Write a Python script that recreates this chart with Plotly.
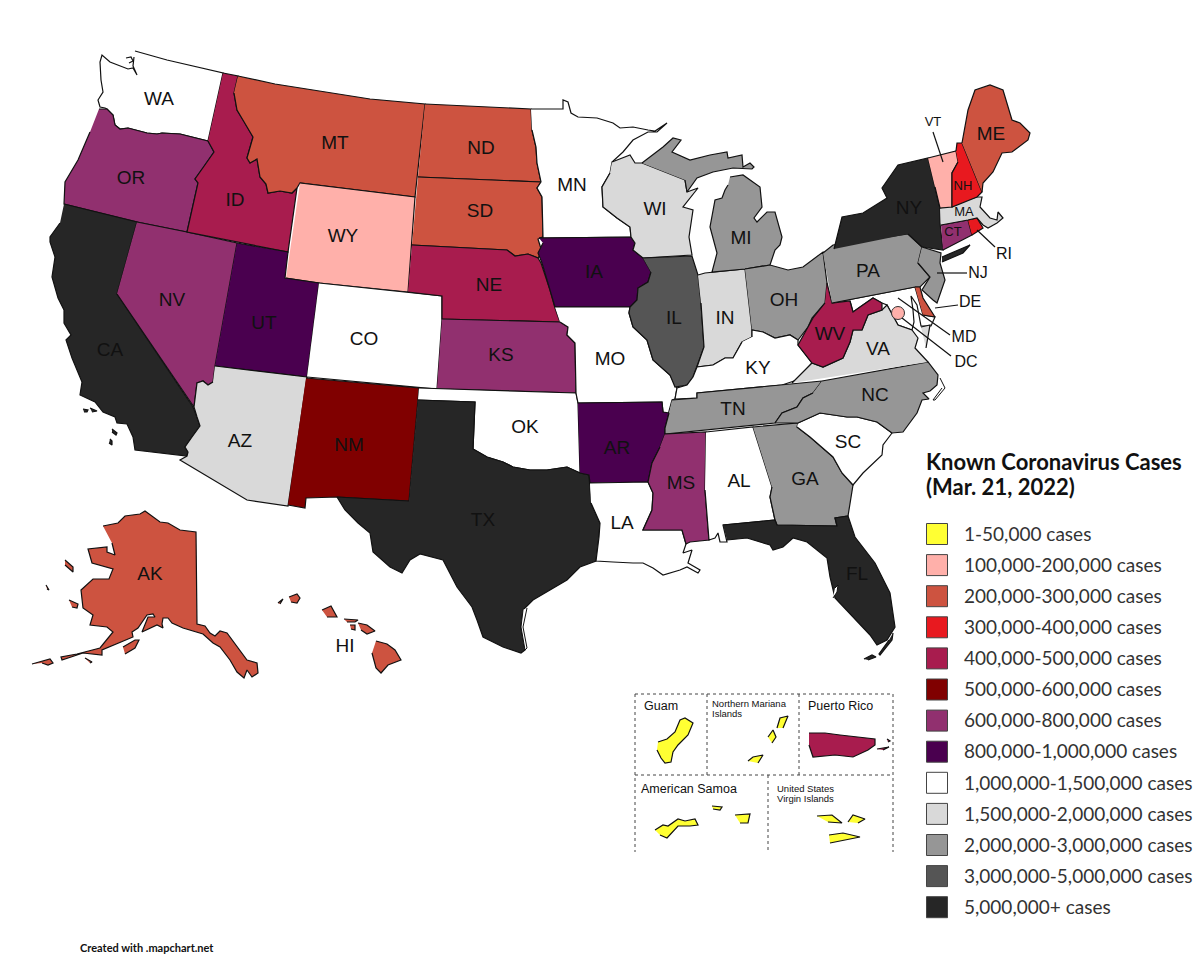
import plotly.graph_objects as go

# cdn topojson can't load here, so state outlines are traced off the reference (image pixels)
WA = [(135,51),(167,60),(223,73),(208,141),(180,134),(162,133),(157,134),(147,133),(128,128),(120,129),(115,125),(113,115),(107,109),(105,108),(100,107),(98,100),(103,92),(101,80),(100,62),(102,55),(110,62),(120,66),(128,69),(133,68),(137,75),(133,66),(134,57),
      None,(126,58),(131,57),(133,61),(129,63)]
OR = [(99,109),(107,109),(113,115),(115,125),(120,129),(128,128),(147,133),(157,134),(162,133),(180,134),(208,141),(214,152),(203,168),(195,179),(198,183),(187,232),(137,222),(64,204),(65,182),(78,160),(90,132)]
CA = [(64,204),(137,222),(117,294),(193,407),(197,417),(200,426),(192,437),(185,447),(188,452),(187,456),(135,450),(133,437),(127,424),(117,423),(115,417),(103,412),(95,402),(80,395),(82,382),(72,358),(66,340),(71,335),(64,323),(64,310),(58,298),(52,277),(55,257),(50,242),(50,237),(60,223),
      None,(83,409),(88,410),(87,412),(84,412),None,(90,408),(97,411),(92,412),None,(112,429),(117,433),(116,435),(112,432),None,(110,439),(112,441),(112,445),(109,443)]
NV = [(137,222),(187,232),(237,243),(215,366),(213,382),(208,385),(203,381),(197,383),(194,407),(117,294)]
ID = [(223,73),(238,76),(234,93),(237,110),(245,123),(253,137),(247,158),(250,163),(257,159),(260,177),(266,184),(268,193),(280,191),(292,193),(297,188),(288,252),(187,232),(198,183),(195,179),(203,168),(214,152),(208,141)]
MT = [(238,76),(275,84),(313,90),(370,99),(425,104),(415,197),(300,183),(297,188),(292,193),(280,191),(268,193),(266,184),(260,177),(257,159),(250,163),(247,158),(253,137),(245,123),(237,110),(234,93)]
WY = [(300,183),(415,197),(408,292),(319,283),(286,278)]
UT = [(237,243),(288,252),(285,278),(319,283),(307,377),(215,366)]
AZ = [(215,366),(307,377),(288,506),(247,500),(180,460),(187,456),(188,452),(185,447),(192,437),(200,426),(197,417),(194,407),(197,383),(203,381),(208,385),(213,382)]
CO = [(319,283),(408,292),(442,296),(442,319),(437,389),(307,377)]
NM = [(306,378),(419,388),(409,501),(337,497),(306,498),(305,508),(288,505)]
ND = [(425,104),(531,109),(532,130),(536,147),(537,163),(541,182),(418,177)]
SD = [(418,177),(541,182),(537,188),(542,197),(543,237),(538,239),(542,252),(538,258),(528,254),(515,256),(507,250),(412,245)]
NE = [(412,245),(507,250),(515,256),(528,254),(538,258),(541,263),(550,290),(555,308),(560,322),(442,319),(442,296),(408,292)]
KS = [(442,319),(560,322),(568,327),(567,335),(575,343),(576,393),(437,389)]
OK = [(419,388),(576,393),(578,403),(580,473),(567,467),(547,470),(530,470),(513,467),(503,462),(487,457),(480,453),(473,449),(475,402),(418,400)]
TX = [(418,400),(475,402),(473,449),(480,453),(487,457),(503,462),(513,467),(530,470),(547,470),(567,467),(580,473),(589,475),(591,503),(600,523),(599,537),(596,561),(580,567),(567,580),(547,592),(533,600),(523,610),(521,627),(525,650),(521,653),(503,647),(483,637),(477,620),(472,607),(457,587),(443,560),(420,554),(410,560),(402,573),(390,567),(373,552),(370,533),(358,523),(345,510),(337,497),(409,501)]
MN = [(531,109),(563,109),(563,100),(568,102),(571,113),(578,117),(597,118),(613,123),(620,128),(633,127),(648,130),(655,131),(667,123),(657,132),(648,132),(633,140),(623,152),(612,162),(610,173),(602,187),(603,207),(617,218),(630,227),(631,237),(539,238),(543,237),(542,197),(537,188),(541,182),(537,163),(536,147),(532,130)]
IA = [(539,238),(631,237),(635,243),(633,250),(643,258),(651,272),(648,282),(638,288),(637,300),(630,307),(555,307),(542,263),(538,253),(543,243)]
MO = [(555,307),(630,307),(629,313),(633,327),(647,340),(653,360),(670,375),(677,388),(675,399),(672,400),(668,415),(663,412),(662,402),(578,403),(576,393),(575,343),(567,335),(568,327),(560,322)]
AR = [(578,403),(662,402),(663,412),(669,413),(665,428),(665,434),(660,447),(652,463),(648,482),(590,483),(589,475),(580,473)]
LA = [(590,483),(648,482),(653,493),(652,510),(643,530),(682,530),(686,544),(683,553),(692,550),(688,563),(700,570),(698,573),(687,567),(680,570),(663,575),(653,568),(643,563),(633,563),(613,562),(596,561),(599,537),(600,523),(591,503)]
WI = [(612,162),(630,155),(635,163),(642,163),(685,180),(687,192),(698,188),(683,207),(693,210),(689,237),(692,255),(643,258),(633,250),(635,243),(631,237),(630,227),(617,218),(603,207),(602,187),(610,173)]
IL = [(643,258),(692,256),(698,275),(701,303),(704,347),(697,367),(693,377),(687,385),(675,387),(670,375),(653,360),(647,340),(633,327),(629,313),(630,307),(637,300),(638,288),(648,282),(651,272)]
IN = [(698,275),(705,273),(745,269),(752,330),(752,337),(742,342),(733,358),(725,358),(713,365),(697,367),(704,347),(701,303)]
MI = [(642,163),(663,147),(673,138),(681,140),(672,152),(690,160),(710,155),(727,152),(728,158),(742,155),(743,167),(750,163),(754,167),(752,169),(733,168),(713,172),(697,178),(687,192),(685,180),
      None,(730,177),(743,175),(760,187),(762,207),(754,218),(757,222),(767,212),(775,212),(782,237),(780,245),(775,250),(770,265),(745,269),(712,272),(717,253),(710,227),(715,200),(722,198),(725,190),(728,185)]
OH = [(745,269),(770,265),(788,270),(803,267),(823,252),(827,283),(825,303),(812,318),(808,327),(798,340),(790,335),(775,338),(763,332),(752,330)]
KY = [(752,337),(752,330),(763,332),(775,338),(790,335),(798,340),(798,345),(812,363),(797,380),(782,385),(697,393),(697,398),(675,399),(677,388),(687,385),(693,377),(697,367),(713,365),(725,358),(733,358),(742,342)]
TN = [(672,400),(697,398),(697,393),(782,385),(822,381),(813,393),(803,398),(797,407),(782,413),(775,423),(665,434),(665,428),(669,413)]
MS = [(665,434),(706,432),(705,490),(709,540),(690,542),(686,544),(682,530),(643,530),(652,510),(653,493),(648,482),(652,463),(660,447)]
AL = [(706,432),(753,427),(772,487),(770,497),(775,520),(723,525),(727,542),(720,542),(718,533),(715,538),(709,540),(705,490)]
GA = [(753,427),(798,423),(797,427),(810,437),(833,457),(842,473),(853,485),(848,516),(835,518),(837,526),(777,525),(775,520),(770,497),(772,487)]
SC = [(798,423),(820,413),(847,417),(857,417),(877,422),(892,433),(883,445),(882,455),(863,473),(853,485),(842,473),(833,457),(810,437),(797,427)]
NC = [(822,381),(928,362),(938,375),(937,385),(930,391),(923,393),(929,399),(922,400),(917,413),(903,432),(892,433),(877,422),(857,417),(847,417),(820,413),(798,423),(775,423),(782,413),(797,407),(803,398),(813,393)]
FL = [(723,525),(775,520),(777,525),(837,526),(835,518),(848,516),(855,537),(875,563),(890,593),(895,627),(887,640),(877,645),(870,635),(853,617),(835,598),(830,577),(827,558),(807,542),(793,538),(783,547),(773,550),(770,545),(747,538),(727,540),
      None,(893,633),(892,640),(880,655),(879,654),(889,640),None,(864,659),(872,655),(876,657),(868,660)]
VA = [(792,383),(812,363),(823,367),(843,358),(850,342),(853,330),(862,330),(868,315),(882,310),(887,305),(898,325),(912,330),(918,338),(915,348),(928,362),
      None,(921,327),(930,325),(926,348)]
MD = [(832,303),(915,287),(923,315),(935,317),(931,326),(921,326),(917,305),(911,296),(913,310),(914,322),(912,330),(898,325),(887,305),(882,303),(873,298),(860,307),(853,312),(850,301)]
WV = [(827,283),(832,303),(850,301),(853,312),(860,307),(873,298),(882,303),(882,310),(868,315),(862,330),(853,330),(850,342),(843,358),(823,367),(812,363),(798,345),(808,327),(813,318),(825,303)]
PA = [(823,253),(833,245),(908,234),(922,247),(918,263),(930,277),(920,287),(915,287),(832,303)]
NY = [(834,249),(842,217),(863,213),(887,198),(882,188),(898,165),(928,158),(935,187),(940,208),(940,223),(943,250),(922,247),(908,234),
      None,(942,257),(970,245),(963,253),(942,262)]
NJ = [(922,247),(941,253),(940,263),(945,280),(937,303),(933,300),(922,290),(930,277),(918,263)]
DE = [(915,287),(920,287),(923,298),(935,317),(923,315)]
CT = [(941,225),(968,220),(972,235),(943,250)]
RI = [(968,220),(977,218),(983,228),(972,235)]
MA = [(940,208),(977,197),(982,197),(980,207),(990,218),(997,220),(998,212),(1003,218),(997,223),(988,228),(983,225),(977,218),(968,220),(941,225)]
VT = [(928,158),(956,151),(958,162),(952,173),(952,207),(940,208),(935,187)]
NH = [(956,151),(957,143),(962,143),(982,192),(977,197),(952,207),(952,173),(958,162)]
ME = [(962,143),(968,110),(975,90),(990,85),(1003,90),(1012,120),(1020,123),(1030,133),(1028,140),(1012,152),(1002,153),(993,172),(983,183),(982,192)]
AK = [(103,526),(118,523),(125,516),(140,514),(145,511),(160,522),(168,523),(180,530),(196,532),(197,624),(205,626),(210,633),(215,636),(220,631),(227,633),(240,650),(247,660),(257,663),(258,673),(252,677),(247,670),(244,678),(237,672),(230,660),(220,647),(213,643),(205,635),(203,634),(183,628),(172,623),(168,618),(163,618),(162,624),(163,628),(157,625),(142,632),(148,617),(155,617),(153,614),(147,615),(138,628),(132,632),(133,637),(118,643),(102,650),(102,655),(83,653),(62,660),(61,657),(77,654),(100,648),(113,632),(107,627),(90,625),(93,615),(83,608),(81,590),(93,579),(109,579),(113,569),(92,563),(88,549),(107,547),(107,552),(115,555),(112,543),
      None,(123,647),(135,640),(139,640),(135,648),(125,654),None,(65,560),(73,567),(73,572),(65,565),None,(69,600),(78,604),(77,608),(72,607),None,(46,585),(49,590),(47,589),None,(32,664),(43,661),(50,659),(53,663),(48,665),(42,663),None,(85,658),(92,662),(90,663)]
HI = [(289,597),(297,594),(300,598),(297,603),(291,602),None,(278,603),(283,599),(280,604),None,(322,610),(331,606),(337,617),(327,617),None,(344,619),(358,620),(355,622),(347,622),None,(350,625),(355,625),(355,630),(351,629),None,(358,623),(367,625),(375,631),(367,634),(361,630),None,(376,641),(387,644),(395,650),(401,660),(388,665),(381,673),(376,668),(372,653)]
PR = [(809,733),(825,733),(840,735),(860,737),(875,739),(875,745),(868,750),(853,757),(835,755),(813,757),(809,745),None,(877,749),(889,747),(883,750),None,(887,739),(890,741),(888,742)]
GU = [(658,742),(667,739),(675,732),(680,720),(685,718),(693,723),(688,735),(678,745),(673,752),(671,762),(665,763),(661,758),(657,750)]
MP = [(777,728),(780,718),(788,716),(783,728),None,(768,737),(773,730),(776,737),(772,743),None,(748,761),(753,757),(763,755),(758,763)]
AS = [(655,830),(663,825),(668,826),(678,819),(685,821),(695,819),(698,825),(690,826),(678,826),(672,833),(667,838),(660,835),None,(735,815),(750,814),(748,823),(740,823),None,(712,806),(722,807),(720,810),(713,809)]
VI = [(817,816),(832,815),(842,823),(828,822),None,(848,822),(853,815),(865,819),(858,823),None,(829,835),(843,833),(860,837),(830,843)]

# white slivers on the coast: Padre Island, Tampa Bay, Outer Banks
slivers = [(527,608),(523,627),(527,648),(525,650),(521,627),(523,610),None,(835,588),(838,585),(837,592),(833,598),None,(940,378),(945,388),(935,400),(933,400),(942,388)]

# legend bins, index in state_bins points here
bin_labels = ['1-50,000 cases', '100,000-200,000 cases', '200,000-300,000 cases', '300,000-400,000 cases',
              '400,000-500,000 cases', '500,000-600,000 cases', '600,000-800,000 cases', '800,000-1,000,000 cases',
              '1,000,000-1,500,000 cases', '1,500,000-2,000,000 cases', '2,000,000-3,000,000 cases',
              '3,000,000-5,000,000 cases', '5,000,000+ cases']
bin_colors = ['#ffff33', '#ffb0aa', '#cd5340', '#e8191f', '#a81c4e', '#800000', '#91306f', '#4a004f',
              '#ffffff', '#d9d9d9', '#969696', '#555555', '#262626']

state_names = ['WA', 'OR', 'CA', 'NV', 'ID', 'MT', 'WY', 'UT', 'AZ', 'CO', 'NM', 'ND', 'SD', 'NE', 'KS', 'OK', 'TX',
               'MN', 'IA', 'MO', 'AR', 'LA', 'WI', 'IL', 'IN', 'MI', 'OH', 'KY', 'TN', 'MS', 'AL', 'GA', 'SC', 'NC',
               'FL', 'MD', 'VA', 'WV', 'PA', 'NY', 'NJ', 'DE', 'CT', 'RI', 'MA', 'VT', 'NH', 'ME', 'AK', 'HI', 'PR',
               'GU', 'MP', 'AS', 'VI']
state_bins = [8, 6, 12, 6, 4, 2, 1, 7, 9, 8, 5, 2, 2, 4, 6, 8, 12,
              8, 7, 8, 7, 8, 9, 11, 9, 10, 10, 8, 10, 6, 8, 10, 8, 10,
              12, 8, 9, 4, 10, 12, 10, 2, 6, 3, 9, 1, 3, 2, 2, 2, 4,
              0, 0, 0, 0]
state_shapes = [WA, OR, CA, NV, ID, MT, WY, UT, AZ, CO, NM, ND, SD, NE, KS, OK, TX,
                MN, IA, MO, AR, LA, WI, IL, IN, MI, OH, KY, TN, MS, AL, GA, SC, NC,
                FL, MD, VA, WV, PA, NY, NJ, DE, CT, RI, MA, VT, NH, ME, AK, HI, PR,
                GU, MP, AS, VI]

labels = ['WA', 'OR', 'CA', 'NV', 'ID', 'MT', 'WY', 'UT', 'AZ', 'CO', 'NM', 'ND', 'SD', 'NE', 'KS', 'OK', 'TX', 'MN', 'IA', 'MO', 'AR', 'LA', 'WI', 'IL', 'IN', 'MI', 'OH', 'KY', 'TN', 'MS', 'AL', 'GA', 'FL', 'SC', 'NC', 'VA', 'WV', 'PA', 'NY', 'ME', 'AK', 'HI']
label_x = [159, 131, 110, 172, 235, 335, 343, 264, 240, 364, 349, 481, 480, 489, 501, 525, 483, 572, 594, 610, 617, 622, 655, 674, 725, 741, 784, 758, 733, 681, 739, 805, 857, 848, 875, 878, 830, 868, 909, 991, 150, 345]
label_y = [100, 179, 351, 301, 201, 144, 237, 324, 442, 340, 446, 149, 212, 286, 356, 428, 521, 186, 273, 360, 449, 524, 210, 319, 319, 239, 301, 369, 410, 484, 482, 480, 575, 443, 396, 350, 335, 272, 209, 135, 575, 647]
side_labels = ['NJ', 'DE', 'MD', 'DC', 'RI']
side_x = [978, 970, 964, 966, 1004]
side_y = [274, 303, 338, 363, 255]
small_labels = ['NH', 'MA', 'CT', 'VT']
small_x = [963, 964, 953, 933]
small_y = [187, 213, 233, 123]

leader_x = [933, 943, None, 977, 995, None, 937, 967, None, 935, 958, None, 898, 950, None, 902, 951]
leader_y = [132, 162, None, 230, 247, None, 273, 273, None, 308, 305, None, 298, 335, None, 318, 356]
dc_x = [898]
dc_y = [313]

box_x = [635, 893, None, 635, 893, None, 635, 635, None, 893, 893, None, 707, 707, None, 799, 799, None, 768, 768]
box_y = [694, 694, None, 775, 775, None, 694, 852, None, 694, 852, None, 694, 775, None, 694, 775, None, 775, 852]

fig = go.Figure()

for name, shape, b in zip(state_names, state_shapes, state_bins):
    xs = [p[0] if p else None for p in shape]
    ys = [p[1] if p else None for p in shape]
    fig.add_trace(go.Scatter(x=xs, y=ys, mode='lines', fill='toself', fillcolor=bin_colors[b],
                             line=dict(color='#111111', width=1.2), name=name))

fig.add_trace(go.Scatter(x=[p[0] if p else None for p in slivers], y=[p[1] if p else None for p in slivers],
                         mode='lines', fill='toself', fillcolor='white', line=dict(color='#111111', width=1)))
fig.add_trace(go.Scatter(x=leader_x, y=leader_y, mode='lines', line=dict(color='#111111', width=1.2)))
fig.add_trace(go.Scatter(x=dc_x, y=dc_y, mode='markers', marker=dict(size=13, color=bin_colors[1], line=dict(color='#333333', width=1))))
fig.add_trace(go.Scatter(x=box_x, y=box_y, mode='lines', line=dict(color='#444444', width=1, dash='dot')))

fig.add_trace(go.Scatter(x=label_x, y=label_y, text=labels, mode='text',
                         textfont=dict(family='Liberation Sans', size=19, color='#111111')))
fig.add_trace(go.Scatter(x=side_x, y=side_y, text=side_labels, mode='text',
                         textfont=dict(family='Liberation Sans', size=16, color='#111111')))
fig.add_trace(go.Scatter(x=small_x, y=small_y, text=small_labels, mode='text',
                         textfont=dict(family='Liberation Sans', size=13, color='#111111')))

# territory captions
fig.add_trace(go.Scatter(x=[644, 808, 641], y=[707, 707, 790], text=['Guam', 'Puerto Rico', 'American Samoa'], mode='text',
                         textposition='middle right', textfont=dict(family='Liberation Sans', size=12.5, color='#111111')))
fig.add_trace(go.Scatter(x=[712, 712, 777, 777], y=[705, 715, 790, 800],
                         text=['Northern Mariana', 'Islands', 'United States', 'Virgin Islands'], mode='text',
                         textposition='middle right', textfont=dict(family='Liberation Sans', size=9.5, color='#111111')))

# legend drawn by hand to sit where the reference has it
legend_y = [536 + 31.1 * i for i in range(len(bin_labels))]
fig.add_trace(go.Scatter(x=[937] * len(bin_labels), y=[v - 2 for v in legend_y], mode='markers',
                         marker=dict(symbol='square', size=21, color=bin_colors, line=dict(color='#444444', width=1))))
fig.add_trace(go.Scatter(x=[964] * len(bin_labels), y=legend_y, text=bin_labels, mode='text', textposition='middle right',
                         textfont=dict(family='Lato', size=19, color='#333333')))
fig.add_trace(go.Scatter(x=[926, 926], y=[464, 489], text=['<b>Known Coronavirus Cases</b>', '<b>(Mar. 21, 2022)</b>'],
                         mode='text', textposition='middle right', textfont=dict(family='Lato', size=22, color='#111111')))
fig.add_trace(go.Scatter(x=[80], y=[949], text=['<b>Created with .mapchart.net</b>'], mode='text', textposition='middle right',
                         textfont=dict(family='Lato', size=11, color='#111111')))

fig.update_layout(width=1200, height=965, margin=dict(l=0, r=0, t=0, b=0), showlegend=False,
                  plot_bgcolor='white', paper_bgcolor='white', hovermode='closest',
                  xaxis=dict(range=[0, 1200], visible=False), yaxis=dict(range=[965, 0], visible=False))
fig.write_html("out.html", config={'displayModeBar': False},
               post_script="document.body.style.margin='0';document.body.style.overflow='hidden';")
